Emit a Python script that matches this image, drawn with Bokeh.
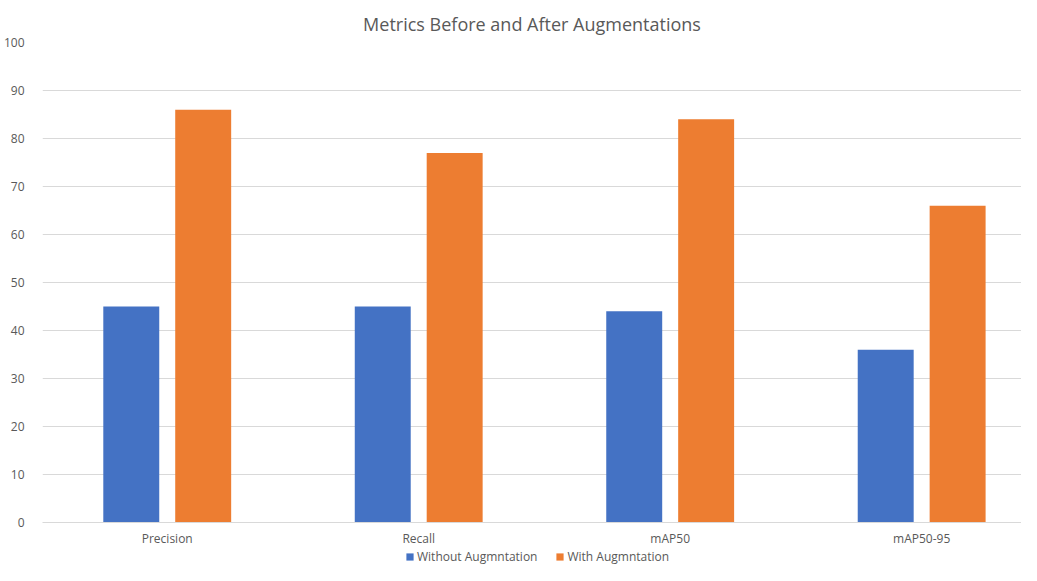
from bokeh.plotting import figure
from bokeh.layouts import column
from bokeh.models import ColumnDataSource, Legend, LegendItem, FixedTicker, Range1d
from bokeh.transform import dodge
from bokeh.embed import file_html
from bokeh.resources import INLINE

categories = ["Precision", "Recall", "mAP50", "mAP50-95"]
without_aug = [45, 45, 44, 36]
with_aug = [86, 77, 84, 66]
series_names = ["Without Augmntation", "With Augmntation"]
series_colors = ["#4472C4", "#ED7D31"]
y_ticks = [0, 10, 20, 30, 40, 50, 60, 70, 80, 90, 100]

xpos = list(range(len(categories)))
source = ColumnDataSource(dict(x=xpos, cat=categories, wo=without_aug, w=with_aug))

FONT = "Open Sans"
GREY = "#595959"

p = figure(x_range=Range1d(-0.496, 3.397), y_range=Range1d(0, 100), width=1021, height=549,
           output_backend="svg", toolbar_location=None,
           title="Metrics Before and After Augmentations",
           min_border_left=41, min_border_right=0, min_border_top=42, min_border_bottom=20)
p.outline_line_color = None

p.title.align = "center"
p.title.vertical_align = "top"
p.title.text_font = FONT
p.title.text_font_size = "18px"
p.title.text_font_style = "normal"
p.title.text_color = GREY

p.vbar(x=dodge("x", -0.143), top="wo", width=0.2225, source=source,
       fill_color=series_colors[0], line_color=None)
p.vbar(x=dodge("x", 0.143), top="w", width=0.2225, source=source,
       fill_color=series_colors[1], line_color=None)

p.yaxis.ticker = FixedTicker(ticks=y_ticks)
p.yaxis.axis_line_color = None
p.yaxis.major_tick_line_color = None
p.yaxis.minor_tick_line_color = None
p.yaxis.major_label_text_font = FONT
p.yaxis.major_label_text_font_size = "12px"
p.yaxis.major_label_text_color = GREY
p.yaxis.major_label_standoff = 12

p.xaxis.ticker = FixedTicker(ticks=xpos)
p.xaxis.major_label_overrides = {i: c for i, c in zip(xpos, categories)}
p.xaxis.axis_line_color = "#d9d9d9"
p.xaxis.major_tick_line_color = None
p.xaxis.minor_tick_line_color = None
p.xaxis.major_label_text_font = FONT
p.xaxis.major_label_text_font_size = "12px"
p.xaxis.major_label_text_color = GREY
p.xaxis.major_label_standoff = 1

p.xgrid.grid_line_color = None
p.ygrid.grid_line_color = "#d9d9d9"

# legend strip as its own small figure (its bars sit far outside the visible ranges)
lp = figure(x_range=Range1d(100, 101), y_range=Range1d(1000, 1001), width=1021, height=16,
            output_backend="svg", toolbar_location=None,
            x_axis_location=None, y_axis_location=None,
            min_border_left=0, min_border_right=0, min_border_top=0, min_border_bottom=0)
lp.grid.visible = False
lp.outline_line_color = None
items = []
for name, color, col in zip(series_names, series_colors, ["wo", "w"]):
    r = lp.vbar(x="x", top=col, width=0.2, source=source, fill_color=color, line_color=None)
    items.append(LegendItem(label=name, renderers=[r]))

legend = Legend(items=items, orientation="horizontal", location=(363, 0),
                label_text_font=FONT, label_text_font_size="12px", label_text_color=GREY,
                label_height=12, glyph_width=9, glyph_height=9, spacing=18, label_standoff=3,
                border_line_color=None, background_fill_alpha=0, padding=0, margin=0)
lp.add_layout(legend)

layout = column(p, lp, spacing=0)
open("out.html", "w").write(file_html(layout, INLINE))
